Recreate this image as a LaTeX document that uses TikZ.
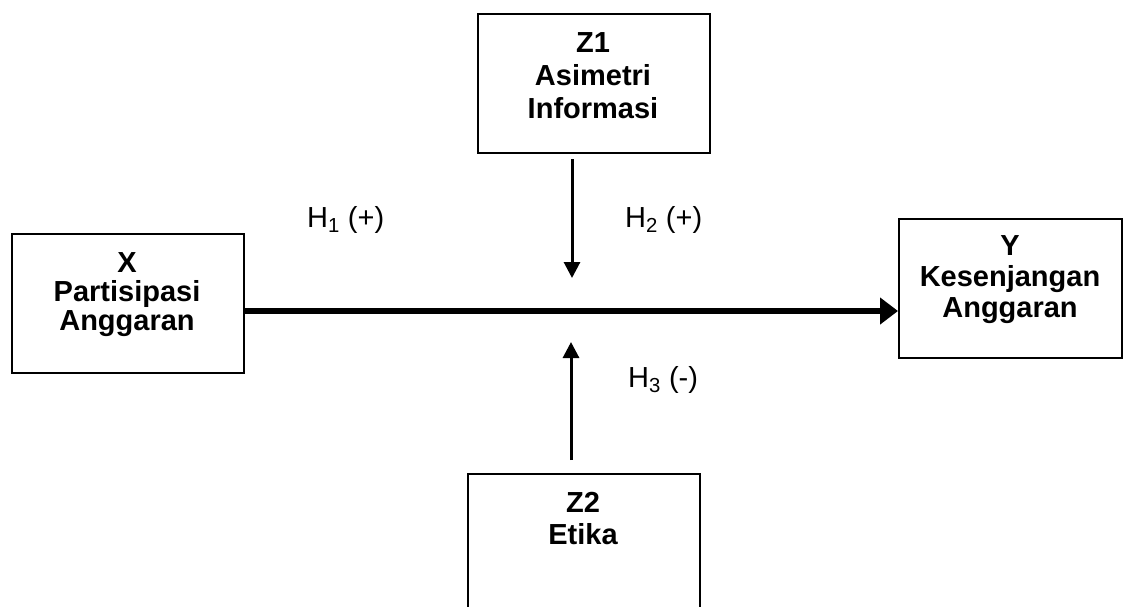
\documentclass[tikz,border=0pt]{standalone}
\usepackage{fontspec}
\setmainfont{Liberation Sans}
\usetikzlibrary{arrows.meta}
\begin{document}
\begin{tikzpicture}[x=1pt,y=-1pt,
  box/.style={draw,line width=2pt,inner sep=0pt,anchor=north west},
  lbl/.style={align=center,inner sep=0pt,anchor=north},
  hyp/.style={font=\fontsize{29}{33}\selectfont,inner sep=0pt,anchor=base west},
  thinarrow/.style={line width=3pt,-{Triangle[length=16pt,width=16pt]}},
  mainarrow/.style={line width=6pt,-{Triangle[length=18pt,width=26pt]}}]
\useasboundingbox (0,0) rectangle (1123,606);
\clip (0,0) rectangle (1123,606);
% boxes
\node[box,minimum width=232pt,minimum height=139pt] (z1) at (477,13) {};
\node[box,minimum width=232pt,minimum height=139pt] (x) at (11,233) {};
\node[box,minimum width=223pt,minimum height=139pt] (y) at (898,218) {};
\node[box,minimum width=232pt,minimum height=150pt] (z2) at (467,473) {};
% texts
\node[lbl,font=\fontsize{29}{33}\selectfont\bfseries] (z1t) at (593,32) {Z1\\Asimetri\\Informasi};
\node[lbl,font=\fontsize{29}{29}\selectfont\bfseries] (xt) at (127,252) {X\\Partisipasi\\Anggaran};
\node[lbl,font=\fontsize{29}{31}\selectfont\bfseries] (yt) at (1010,235) {Y\\Kesenjangan\\Anggaran};
\node[lbl,font=\fontsize{29}{32}\selectfont\bfseries] (z2t) at (583,492) {Z2\\Etika};
% hypothesis labels
\node[hyp] (h1) at (307,227) {H\textsubscript{1} (+)};
\node[hyp] (h2) at (625,227) {H\textsubscript{2} (+)};
\node[hyp] (h3) at (628,387) {H\textsubscript{3} (-)};
% connectors
\draw[mainarrow] (x.east |- 0,311) -- (y.west |- 0,311);
\coordinate (a1) at (572,278);
\path (z1.south -| a1) ++(0,5) coordinate (s1);
\draw[thinarrow] (s1) -- (a1);
\coordinate (a2) at (571,342);
\path (z2.north -| a2) ++(0,-13) coordinate (s2);
\draw[thinarrow] (s2) -- (a2);
\end{tikzpicture}
\end{document}
